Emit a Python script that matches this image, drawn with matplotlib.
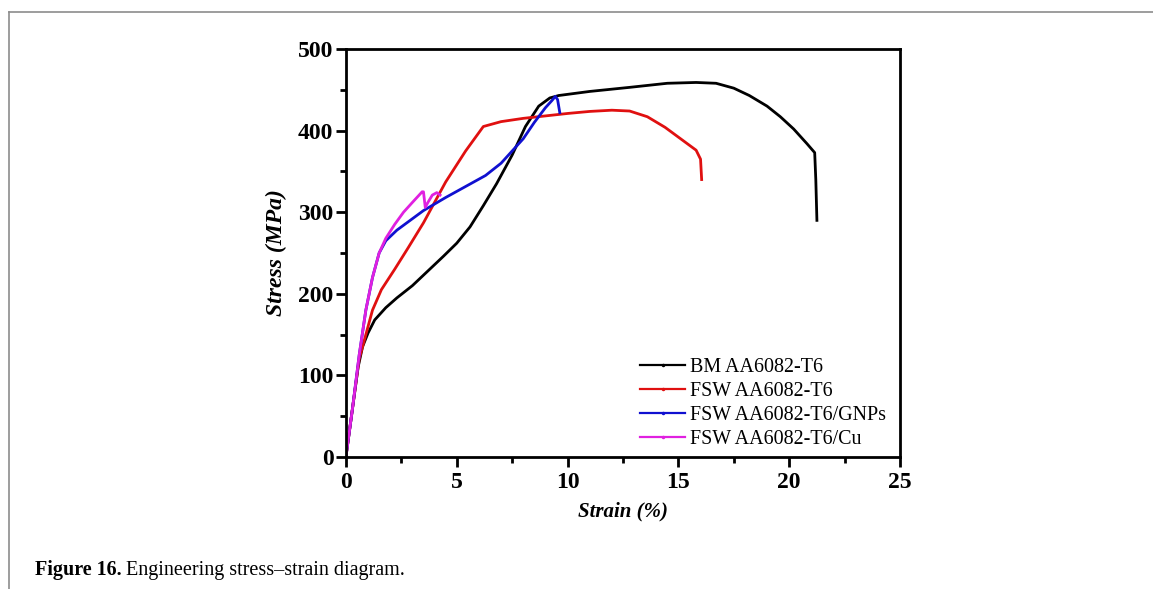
import matplotlib
matplotlib.use("Agg")
import matplotlib.pyplot as plt
from matplotlib.lines import Line2D
from matplotlib.ticker import MultipleLocator

plt.rcParams['font.family'] = ['Liberation Serif', 'DejaVu Serif']

# strain (%) / stress (MPa)
bm_strain = [0, 0.3, 0.55, 0.75, 1.0, 1.3, 1.8, 2.3, 3.0, 3.7, 4.4, 5.0, 5.6, 6.2, 6.8, 7.5,
             8.1, 8.7, 9.2, 9.6, 11.0, 12.8, 14.5, 15.8, 16.7, 17.5, 18.2, 19.0, 19.6,
             20.2, 20.8, 21.15, 21.2, 21.25]
bm_stress = [0, 60, 110, 135, 152, 168, 183, 195, 210, 228, 246, 262, 282, 308, 335, 370,
             405, 430, 440, 443, 448, 453, 458, 459, 458, 452, 443, 430, 417,
             402, 384, 373, 340, 290]

fsw_strain = [0, 0.3, 0.6, 0.9, 1.2, 1.6, 2.2, 2.8, 3.5, 4.5, 5.4, 6.2, 7.0, 8.0, 9.0,
              10.0, 11.0, 12.0, 12.8, 13.6, 14.4, 15.1, 15.8, 16.0, 16.05]
fsw_stress = [0, 60, 120, 150, 180, 205, 230, 256, 287, 337, 375, 405, 411, 415, 418,
              421, 423.5, 425, 424, 417, 404, 390, 376, 365, 340]

gnp_strain = [0, 0.3, 0.6, 0.9, 1.2, 1.5, 1.8, 2.3, 3.0, 3.5, 4.5, 5.5, 6.3, 7.0, 7.5,
              8.0, 8.5, 9.0, 9.3, 9.45, 9.55, 9.6, 9.65]
gnp_stress = [0, 60, 125, 180, 220, 250, 265, 278, 292, 302, 318, 333, 345, 360, 375,
              390, 410, 428, 437, 442, 438, 430, 422]

cu_strain = [0, 0.3, 0.6, 0.9, 1.2, 1.5, 1.8, 2.2, 2.6, 3.0, 3.44, 3.5, 3.58, 3.7, 3.9,
             4.1, 4.25]
cu_stress = [0, 60, 125, 180, 220, 250, 268, 285, 300, 312, 325, 325, 306, 312, 321,
             324, 321]

labels = ['BM AA6082-T6', 'FSW AA6082-T6', 'FSW AA6082-T6/GNPs', 'FSW AA6082-T6/Cu']
colors = ['#000000', '#e01010', '#1010d0', '#e020e0']

fig = plt.figure(figsize=(11.53, 5.89), dpi=100)
ax = fig.add_axes([0.300, 0.2241, 0.4806, 0.6927])

series = [(bm_strain, bm_stress), (fsw_strain, fsw_stress),
          (gnp_strain, gnp_stress), (cu_strain, cu_stress)]
for (x, y), c in zip(series, colors):
    ax.plot(x, y, color=c, lw=2.0, solid_joinstyle='round')

ax.set_xlim(0, 25)
ax.set_ylim(0, 500)
ax.xaxis.set_major_locator(MultipleLocator(5))
ax.xaxis.set_minor_locator(MultipleLocator(2.5))
ax.yaxis.set_major_locator(MultipleLocator(100))
ax.yaxis.set_minor_locator(MultipleLocator(50))
ax.tick_params(which='major', direction='out', length=7, width=2, labelsize=17, pad=2)
ax.tick_params(which='minor', direction='out', length=4, width=2)
ax.tick_params(axis='x', which='major', pad=4)
for lab in ax.get_xticklabels() + ax.get_yticklabels():
    lab.set_fontweight('bold')
for sp in ax.spines.values():
    sp.set_linewidth(2)

ax.set_xlabel('Strain (%)', fontsize=15, fontweight='bold', style='italic', labelpad=6)
ax.set_ylabel('Stress (MPa)', fontsize=17, fontweight='bold', style='italic', labelpad=8)

handles = [Line2D([0], [0], color=c, lw=1.6, marker='.', markersize=3) for c in colors]
ax.legend(handles, labels, loc='lower right', bbox_to_anchor=(1.0, -0.015), frameon=False,
          fontsize=14.4, handlelength=2.25, handletextpad=0.25, labelspacing=0.26,
          borderaxespad=0.3)

# page frame and caption
fig.add_artist(Line2D([9 / 1153, 1], [1 - 12 / 589, 1 - 12 / 589], color='#8c8c8c', lw=1.2))
fig.add_artist(Line2D([9 / 1153, 9 / 1153], [0, 1 - 12 / 589], color='#8c8c8c', lw=1.2))

t1 = fig.text(35 / 1153, 0.032, 'Figure 16.', fontsize=14.5, fontweight='bold', va='center')
fig.canvas.draw()
bb = t1.get_window_extent()
fig.text((bb.x1 + 4) / 1153, 0.032, 'Engineering stress\u2013strain diagram.', fontsize=14.5,
         va='center')

fig.savefig('out.png', dpi=100)
